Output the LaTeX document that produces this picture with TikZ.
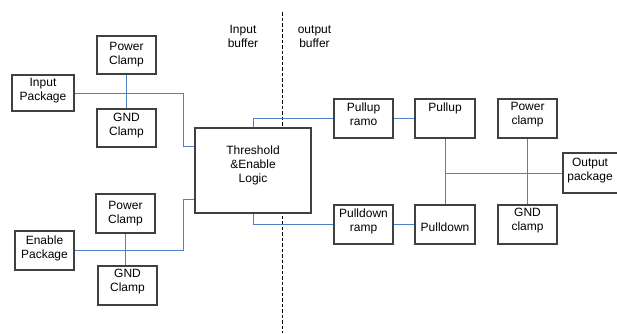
\documentclass[tikz,border=0pt]{standalone}
\usepackage{fontspec}
\setmainfont{Liberation Sans}
\definecolor{wireblue}{RGB}{79,129,199}
\definecolor{edgegray}{RGB}{64,64,64}
\begin{document}
\begin{tikzpicture}[x=1pt,y=-1pt,
  box/.style={draw=edgegray, line width=1.2pt, fill=white, inner sep=0pt},
  txt/.style={inner sep=0pt, align=center, font=\fontsize{12}{14}\selectfont, anchor=north},
  wire/.style={draw=wireblue, line width=0.9pt},
  divider/.style={draw=black, line width=0.9pt, dash pattern=on 3.5pt off 2pt}]
\useasboundingbox (0,0) rectangle (617,333);
\clip (0,0) rectangle (617,333);

% helper: a box given by its corners, with its caption hanging from the top edge
\newcommand\blk[7]{%
  \node[box, minimum width=#4-#2, minimum height=#5-#3] (#1) at ({(#2+#4)/2},{(#3+#5)/2}) {};
  \node[txt] (#1-t) at ([yshift=-#6]#1.north) {#7};}

% divider between input and output buffer
\coordinate (dtop) at (282,12);
\coordinate (dbot) at (282,333);
\draw[divider] (dtop) -- (dbot);
\node[txt, anchor=center] (inbuf) at (243,36.5) {Input\\buffer};
\node[txt, anchor=center] (outbuf) at (314.5,36.5) {output\\buffer};

% input side
\blk{pc1}{97}{36}{156}{74}{7pt}{Power\\Clamp}
\blk{inpkg}{12}{75}{74}{111}{4pt}{Input\\Package}
\blk{gc1}{97}{109}{156}{147}{5pt}{GND\\Clamp}
\blk{pc2}{96}{194}{155}{233}{8pt}{Power\\Clamp}
\blk{enpkg}{15}{231}{74}{270}{5pt}{Enable\\Package}
\blk{gc2}{98}{266}{157}{305}{4pt}{GND\\Clamp}

% core logic
\blk{thr}{195}{128}{311}{213}{18pt}{Threshold\\\&Enable\\Logic}

% output side
\blk{pur}{334}{99}{393}{138}{4pt}{Pullup\\ramo}
\blk{pu}{415}{99}{475}{138}{4pt}{Pullup}
\blk{pwc}{498}{99}{557}{138}{4pt}{Power\\clamp}
\blk{pdr}{334}{205}{393}{244}{4pt}{Pulldown\\ramp}
\blk{pd}{415}{205}{475}{244}{18pt}{Pulldown}
\blk{gcr}{498}{205}{557}{244}{4pt}{GND\\clamp}
\blk{outpkg}{563}{153}{630}{193}{6pt}{\hspace*{-13pt}Output\\\hspace*{-13pt}package}

% wiring
\coordinate (j1) at (183,146);
\coordinate (j2) at (183,199);
\draw[wire] (pc1.south) -- (pc1.south |- gc1.north);
\draw[wire] (inpkg.east) -- (inpkg.east -| j1) -- (j1) -- (j1 -| thr.west);
\draw[wire] (pc2.south) -- (pc2.south |- gc2.north);
\draw[wire] (enpkg.east) -- (enpkg.east -| j2) -- (j2) -- (j2 -| thr.west);
\draw[wire] (thr.north) |- (pur.west);
\draw[wire] (thr.south) |- (pdr.west);
\draw[wire] (pur.east) -- (pu.west);
\draw[wire] (pdr.east) -- (pd.west);
\draw[wire] (pu.south) -- (pd.north);
\draw[wire] (pwc.south) -- (gcr.north);
\draw[wire] (outpkg.west) -- (outpkg.west -| pu.south);

% redraw box outlines over wire ends
\foreach \n in {pc1,inpkg,gc1,pc2,enpkg,gc2,thr,pur,pu,pwc,pdr,pd,gcr,outpkg}
  \draw[draw=edgegray, line width=1.2pt] (\n.north west) rectangle (\n.south east);
\end{tikzpicture}
\end{document}
